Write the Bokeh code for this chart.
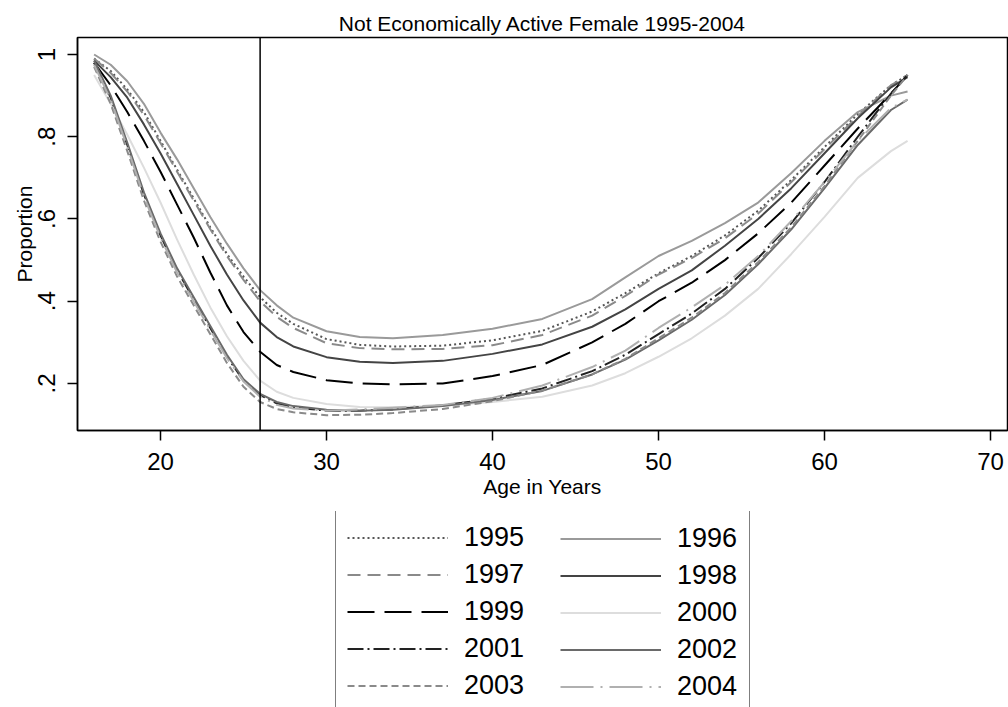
from bokeh.plotting import figure
from bokeh.layouts import column
from bokeh.models import Range1d, FixedTicker, Span, Legend, LegendItem
from bokeh.embed import file_html
from bokeh.resources import INLINE

ages = [16, 17, 18, 19, 20, 21, 22, 23, 24, 25, 26, 27, 28, 30, 32, 34, 37, 40,
        43, 46, 48, 50, 52, 54, 56, 58, 60, 62, 64, 65]

y1995 = [0.99, 0.96, 0.915, 0.86, 0.79, 0.72, 0.65, 0.58, 0.515, 0.46, 0.41, 0.372, 0.345, 0.308, 0.294, 0.29, 0.292, 0.305,
         0.328, 0.375, 0.42, 0.468, 0.51, 0.56, 0.62, 0.695, 0.775, 0.855, 0.925, 0.95]
y1996 = [1.00, 0.975, 0.935, 0.88, 0.81, 0.745, 0.675, 0.605, 0.54, 0.48, 0.427, 0.39, 0.36, 0.327, 0.313, 0.31, 0.318, 0.333,
         0.357, 0.405, 0.458, 0.51, 0.547, 0.59, 0.64, 0.712, 0.79, 0.86, 0.90, 0.91]
y1997 = [0.99, 0.955, 0.91, 0.853, 0.785, 0.715, 0.645, 0.575, 0.51, 0.452, 0.40, 0.362, 0.335, 0.298, 0.286, 0.283, 0.284, 0.293,
         0.318, 0.365, 0.413, 0.465, 0.505, 0.553, 0.613, 0.69, 0.77, 0.85, 0.925, 0.95]
y1998 = [0.985, 0.945, 0.895, 0.83, 0.76, 0.685, 0.61, 0.535, 0.465, 0.402, 0.348, 0.313, 0.29, 0.264, 0.253, 0.25, 0.255, 0.272,
         0.295, 0.338, 0.38, 0.43, 0.475, 0.535, 0.60, 0.675, 0.76, 0.845, 0.92, 0.945]
y1999 = [0.98, 0.925, 0.86, 0.79, 0.715, 0.635, 0.555, 0.47, 0.39, 0.325, 0.277, 0.245, 0.228, 0.208, 0.20, 0.198, 0.20, 0.218,
         0.245, 0.30, 0.345, 0.40, 0.445, 0.50, 0.565, 0.64, 0.73, 0.82, 0.905, 0.95]
y2000 = [0.95, 0.88, 0.805, 0.725, 0.64, 0.55, 0.465, 0.385, 0.315, 0.255, 0.207, 0.18, 0.165, 0.15, 0.143, 0.142, 0.146, 0.155,
         0.168, 0.195, 0.225, 0.265, 0.31, 0.365, 0.43, 0.515, 0.605, 0.70, 0.765, 0.79]
y2001 = [0.98, 0.895, 0.78, 0.66, 0.56, 0.475, 0.405, 0.335, 0.265, 0.207, 0.172, 0.152, 0.142, 0.134, 0.134, 0.137, 0.147, 0.163,
         0.188, 0.23, 0.27, 0.32, 0.37, 0.43, 0.505, 0.59, 0.69, 0.80, 0.905, 0.95]
y2002 = [0.985, 0.90, 0.785, 0.665, 0.565, 0.48, 0.41, 0.34, 0.27, 0.21, 0.175, 0.155, 0.145, 0.136, 0.134, 0.136, 0.145, 0.16,
         0.182, 0.222, 0.258, 0.305, 0.355, 0.415, 0.49, 0.575, 0.675, 0.78, 0.865, 0.89]
y2003 = [0.97, 0.88, 0.765, 0.645, 0.545, 0.46, 0.39, 0.32, 0.25, 0.192, 0.155, 0.138, 0.13, 0.123, 0.124, 0.128, 0.138, 0.157,
         0.183, 0.222, 0.26, 0.31, 0.36, 0.42, 0.495, 0.58, 0.68, 0.79, 0.90, 0.95]
y2004 = [0.975, 0.89, 0.775, 0.655, 0.555, 0.47, 0.40, 0.33, 0.262, 0.205, 0.168, 0.148, 0.139, 0.134, 0.137, 0.141, 0.148, 0.165,
         0.195, 0.24, 0.28, 0.335, 0.385, 0.44, 0.51, 0.595, 0.69, 0.79, 0.87, 0.89]

years = ["1995", "1996", "1997", "1998", "1999", "2000", "2001", "2002", "2003", "2004"]
series = [y1995, y1996, y1997, y1998, y1999, y2000, y2001, y2002, y2003, y2004]

x_ticks = [20, 30, 40, 50, 60, 70]
y_ticks = [0.2, 0.4, 0.6, 0.8, 1.0]
y_tick_labels = [".2", ".4", ".6", ".8", "1"]
ref_age = 26

colors = ["#555555", "#9a9a9a", "#8a8a8a", "#444444", "#000000",
          "#dddddd", "#222222", "#6a6a6a", "#8a8a8a", "#b0b0b0"]
dashes = ["2 3", "solid", "13 7", "solid", "27 10",
          "solid", "16 4 2 4", "solid", "7 4", "33 7 2 7"]

FONT = "Liberation Sans"

p = figure(width=1008, height=511, output_backend="svg", toolbar_location=None,
           x_range=Range1d(15.0, 71.02), y_range=Range1d(0.0857, 1.0413),
           min_border_left=77, min_border_right=1, min_border_top=37,
           min_border_bottom=81,
           title="Not Economically Active Female 1995-2004")

p.title.align = "center"
p.title.text_font = FONT
p.title.text_font_size = "21px"
p.title.text_font_style = "normal"
p.title.text_color = "black"
p.title.standoff = 6

p.outline_line_color = "black"
p.outline_line_width = 1.5
p.xgrid.visible = False
p.ygrid.visible = False

for ax in (p.xaxis[0], p.yaxis[0]):
    ax.axis_line_color = "black"
    ax.axis_line_width = 1.5
    ax.major_tick_line_color = "black"
    ax.major_tick_line_width = 1.5
    ax.major_tick_out = 10
    ax.major_tick_in = 0
    ax.minor_tick_line_color = None
    ax.major_label_text_font = FONT
    ax.major_label_text_font_size = "24px"
    ax.major_label_text_color = "black"
    ax.axis_label_text_font = FONT
    ax.axis_label_text_font_size = "21px"
    ax.axis_label_text_font_style = "normal"
    ax.axis_label_text_color = "black"

p.xaxis.ticker = FixedTicker(ticks=x_ticks)
p.yaxis.ticker = FixedTicker(ticks=y_ticks)
p.yaxis.major_label_overrides = {t: l for t, l in zip(y_ticks, y_tick_labels)}
p.yaxis.major_label_orientation = "vertical"
p.xaxis.axis_label = "Age in Years"
p.yaxis.axis_label = "Proportion"
p.xaxis.major_label_standoff = 12
p.xaxis.axis_label_standoff = 2
p.yaxis.major_label_standoff = 12
p.yaxis.axis_label_standoff = 0

for yr, ys, c, d in zip(years, series, colors, dashes):
    p.line(ages, ys, line_color=c, line_width=2, line_dash=d, line_join="round")

p.add_layout(Span(location=ref_age, dimension="height", line_color="black",
                  line_width=1.5))

# legend panel below the plot (its key lines lie outside its own view)
p2 = figure(width=1008, height=196, output_backend="svg", toolbar_location=None,
            x_range=Range1d(0, 1), y_range=Range1d(0, 1),
            x_axis_type=None, y_axis_type=None, min_border=0)
p2.outline_line_color = None
p2.xgrid.visible = False
p2.ygrid.visible = False

keys = {}
for yr, ys, c, d in zip(years, series, colors, dashes):
    keys[yr] = p2.line(ages, ys, line_color=c, line_width=2, line_dash=d)

common = dict(label_text_font=FONT, label_text_font_size="27px",
              label_text_color="black", glyph_width=101, glyph_height=31,
              label_height=31, label_standoff=16, spacing=6, padding=11,
              margin=0, orientation="vertical")

leg1 = Legend(items=[LegendItem(label=y, renderers=[keys[y]]) for y in years[0::2]],
              location=(258, -6), border_line_color="black",
              border_line_width=1, label_width=274,
              background_fill_color="white", background_fill_alpha=1.0, **common)
# borderless legend carries no padding, so its offset includes it
leg2 = Legend(items=[LegendItem(label=y, renderers=[keys[y]]) for y in years[1::2]],
              location=(483, 5), border_line_color=None, label_width=60,
              background_fill_alpha=0.0, **common)
p2.add_layout(leg1, "center")
p2.add_layout(leg2, "center")

open("out.html", "w").write(file_html(column(p, p2), INLINE))
